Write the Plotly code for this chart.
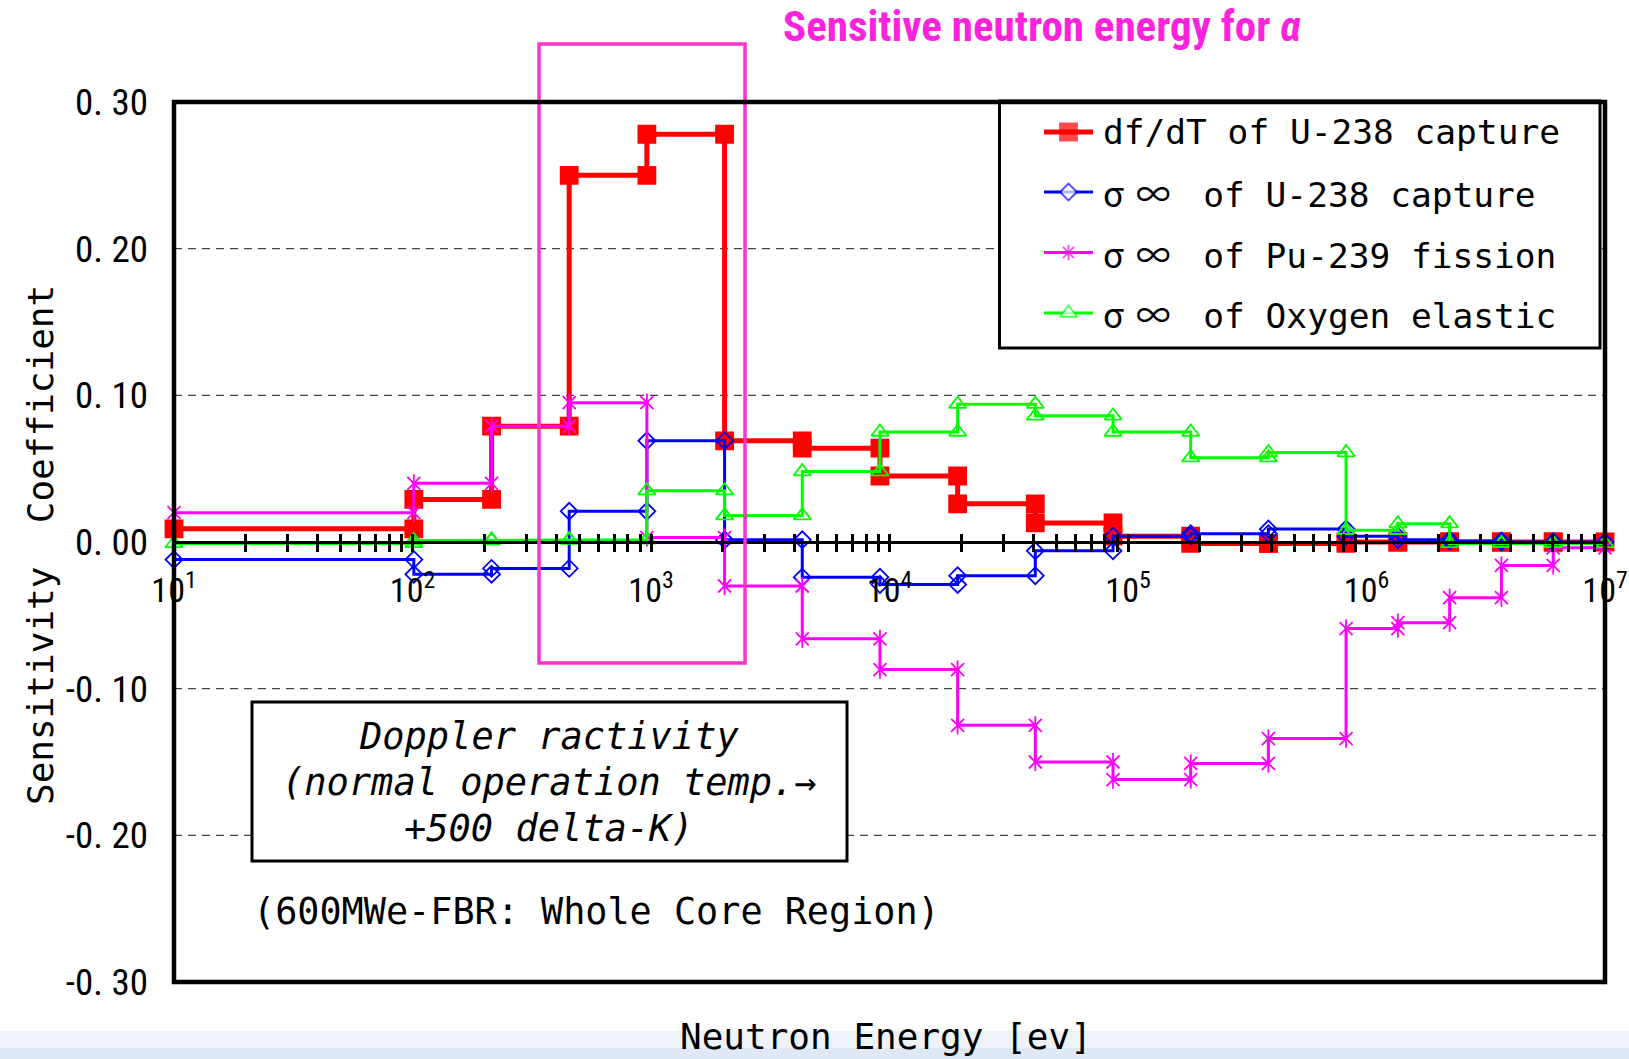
import plotly.graph_objects as go

# Energy group boundaries [eV] (18 broad groups, 10 eV - 10 MeV)
energy_bounds = [10, 101.3, 214.5, 454.0, 961.1, 2034.7, 4307.4, 9118.8, 19305, 40868,
                 86517, 183160, 387740, 820850, 1353400, 2231300, 3678800, 6065300, 1.0e7]

# Sensitivity coefficient of the Doppler reactivity, one value per group (low -> high energy)
dfdt_u238_capture = [0.009, 0.029, 0.079, 0.250, 0.278, 0.069, 0.064, 0.045, 0.026,
                     0.013, 0.004, -0.001, -0.001, 0.000, 0.000, 0.000, 0.000, 0.000]
sigma_u238_capture = [-0.012, -0.022, -0.018, 0.021, 0.069, 0.0015, -0.024, -0.029, -0.023,
                      -0.006, 0.004, 0.0057, 0.0088, 0.004, 0.0016, 0.0007, 0.000, 0.000]
sigma_pu239_fission = [0.020, 0.040, 0.079, 0.095, 0.003, -0.030, -0.066, -0.087, -0.125,
                       -0.150, -0.162, -0.151, -0.134, -0.059, -0.055, -0.038, -0.016, -0.004]
sigma_oxygen_elastic = [-0.001, 0.001, 0.0015, 0.0015, 0.035, 0.018, 0.048, 0.075, 0.094,
                        0.086, 0.075, 0.0575, 0.061, 0.008, 0.0125, -0.001, -0.001, -0.001]

series_names = ["df/dT of U-238 capture", "σ∞ of U-238 capture",
                "σ∞ of Pu-239 fission", "σ∞ of Oxygen elastic"]

y_tick_values = [0.30, 0.20, 0.10, 0.00, -0.10, -0.20, -0.30]
y_tick_labels = ["0. 30", "0. 20", "0. 10", "0. 00", "-0. 10", "-0. 20", "-0. 30"]
grid_values = [0.20, 0.10, -0.10, -0.20]
x_decades = [1, 2, 3, 4, 5, 6, 7]

# ---- page geometry (pixels) ----
W, H = 1629, 1059
ML, MR, MT, MB = 174, 24, 102, 77
PW, PH = W - ML - MR, H - MT - MB


def fx(px):
    return (px - ML) / PW


def fy(py):
    return (H - MB - py) / PH


MONO = "DejaVu Sans Mono"
NARROW = "Roboto Condensed"
CJK = "Noto Sans CJK JP"
RED, BLUE, MAGENTA, GREEN = "#FF0000", "#0000FF", "#FF00FF", "#00FF00"
PINK = "#FF33CC"

# per-series drawing style
styles = [
    dict(color=RED, width=5, symbol="square", size=17),
    dict(color=BLUE, width=3, symbol="diamond-open", size=13),
    dict(color=MAGENTA, width=3, symbol="x-thin-open", size=13),
    dict(color=GREEN, width=3, symbol="triangle-up-open", size=15),
]


def step(values):
    """Group-wise step curve: one horizontal segment per energy group."""
    xs, ys = [], []
    for i, v in enumerate(values):
        xs += [energy_bounds[i], energy_bounds[i + 1]]
        ys += [v, v]
    return xs, ys


fig = go.Figure()

for name, values, st in zip(series_names,
                            [dfdt_u238_capture, sigma_u238_capture,
                             sigma_pu239_fission, sigma_oxygen_elastic], styles):
    x, y = step(values)
    fig.add_trace(go.Scatter(x=x, y=y, mode="lines+markers", name=name, showlegend=False,
                             line=dict(color=st["color"], width=st["width"]),
                             marker=dict(symbol=st["symbol"], size=st["size"], color=st["color"],
                                         line=dict(color=st["color"], width=1.8)),
                             cliponaxis=False))
    if st["color"] == MAGENTA:
        # the star marker also carries a vertical bar
        fig.add_trace(go.Scatter(x=x, y=y, mode="markers", name=name, showlegend=False,
                                 marker=dict(symbol="line-ns-open", size=13, color=MAGENTA,
                                             line=dict(color=MAGENTA, width=1.8)),
                                 cliponaxis=False, hoverinfo="skip"))

# carrier for the upper half of the crossing ticks
fig.add_trace(go.Scatter(x=[None], y=[None], xaxis="x2", showlegend=False, hoverinfo="skip"))

# ---- legend key (drawn on a pixel-space overlay) ----
LEG_BOX = (999.5, 101, 1600, 348)
LEG_ROWS = [132, 192, 252.5, 313]
LEG_LINE = (1044, 1093)
LEG_TEXT_X = 1101
legend_symbols = [("square", RED, 17), ("diamond", "white", 13),
                  ("asterisk-open", MAGENTA, 13), ("triangle-up", "white", 15)]
for st, (sym, fill, size), ry in zip(styles, legend_symbols, LEG_ROWS):
    mid = (LEG_LINE[0] + LEG_LINE[1]) / 2
    fig.add_trace(go.Scatter(x=[LEG_LINE[0], mid, LEG_LINE[1]], y=[ry, ry, ry],
                             mode="lines+markers", xaxis="x3", yaxis="y3",
                             line=dict(color=st["color"], width=st["width"]),
                             marker=dict(symbol=sym, size=[0, size, 0], color=fill,
                                         line=dict(color=st["color"], width=1.8)),
                             showlegend=False, hoverinfo="skip", cliponaxis=False))

major_vals = [10 ** k for k in x_decades]
major_text = ["10<sup>%d</sup>" % k for k in x_decades]
minor_vals = [m * 10 ** k for k in x_decades[:-1] for m in range(2, 10)]

tick_style = dict(ticklen=8, tickwidth=2.5, tickcolor="black")

fig.update_layout(
    width=W, height=H,
    margin=dict(l=ML, r=MR, t=MT, b=MB, pad=0),
    paper_bgcolor="white", plot_bgcolor="white",
    showlegend=False,
    xaxis=dict(type="log", range=[1, 7], anchor="free", position=0.5, automargin=False,
               showline=True, linecolor="black", linewidth=3,
               showgrid=False, zeroline=False,
               tickmode="array", tickvals=major_vals, ticktext=major_text,
               ticks="outside", **tick_style, ticklabelstandoff=9,
               minor=dict(tickmode="array", tickvals=minor_vals, ticks="outside",
                          showgrid=False, **tick_style),
               tickfont=dict(family=NARROW, size=34, color="black")),
    xaxis2=dict(type="log", range=[1, 7], overlaying="x", anchor="free", position=0.5,
                automargin=False, showline=False, showgrid=False, zeroline=False,
                showticklabels=False, tickmode="array", tickvals=major_vals + minor_vals,
                ticks="inside", **tick_style),
    xaxis3=dict(range=[ML, ML + PW], overlaying="x", anchor="y3", visible=False,
                automargin=False),
    yaxis=dict(range=[-0.3, 0.3], tickmode="array", tickvals=y_tick_values,
               ticktext=y_tick_labels, ticks="", showgrid=False, zeroline=False,
               showline=False, ticklabelstandoff=25, automargin=False,
               tickfont=dict(family=NARROW, size=37, color="black")),
    yaxis3=dict(range=[H - MB, MT], overlaying="y", anchor="x3", visible=False,
                automargin=False),
)

shapes = []
# light band along the page bottom
shapes.append(dict(type="rect", xref="paper", yref="paper", x0=fx(0), x1=fx(W),
                   y0=fy(1048), y1=fy(1031), fillcolor="#EEF3FA", line_width=0, layer="below"))
shapes.append(dict(type="rect", xref="paper", yref="paper", x0=fx(0), x1=fx(W),
                   y0=fy(H), y1=fy(1048), fillcolor="#DFE9F5", line_width=0, layer="below"))
# dashed horizontal grid
for v in grid_values:
    shapes.append(dict(type="line", xref="paper", yref="y", x0=0, x1=1, y0=v, y1=v,
                       line=dict(color="#444444", width=1.2, dash="8px,6px"), layer="below"))
# caption box
shapes.append(dict(type="rect", xref="paper", yref="paper", x0=fx(252), x1=fx(847),
                   y0=fy(861), y1=fy(702), fillcolor="white",
                   line=dict(color="black", width=3), layer="below"))
# legend box
shapes.append(dict(type="rect", xref="paper", yref="paper", x0=fx(LEG_BOX[0]), x1=fx(LEG_BOX[2]),
                   y0=fy(LEG_BOX[3]), y1=fy(LEG_BOX[1]), fillcolor="white",
                   line=dict(color="black", width=3), layer="below"))
# highlighted energy window
shapes.append(dict(type="rect", xref="paper", yref="paper", x0=fx(539), x1=fx(745),
                   y0=fy(663), y1=fy(44), line=dict(color=PINK, width=3.5), layer="above"))
# plot frame
shapes.append(dict(type="rect", xref="paper", yref="paper", x0=0, x1=1, y0=0, y1=1,
                   line=dict(color="black", width=4.5), layer="above"))
fig.update_layout(shapes=shapes)

ann = []
ann.append(dict(text="<b>Sensitive neutron energy for <i>α</i></b>", x=fx(1042), y=fy(26),
                font=dict(family=NARROW, size=43, color="#FF22DD")))
ann.append(dict(text="Sensitivity\u00a0\u00a0Coefficient", x=fx(40), y=fy(545), textangle=-90,
                font=dict(family=MONO, size=36, color="black")))
ann.append(dict(text="Neutron Energy [ev]", x=fx(886), y=fy(1036),
                font=dict(family=MONO, size=36, color="black")))
for txt, py in [("Doppler ractivity", 736), ("(normal operation temp.→", 782),
                ("+500 delta-K)", 828)]:
    ann.append(dict(text="<i>" + txt + "</i>", x=fx(549), y=fy(py),
                    font=dict(family=MONO, size=37, color="black")))
ann.append(dict(text="(600MWe-FBR: Whole Core Region)", x=fx(251), y=fy(911), xanchor="left",
                font=dict(family=MONO, size=36.8, color="black")))
for name, ry in zip(series_names, LEG_ROWS):
    label = name.replace(
        "σ∞", "<span style=\"font-family:'%s';letter-spacing:12px\">σ∞</span>" % CJK)
    ann.append(dict(text=label, x=fx(LEG_TEXT_X), y=fy(ry), xanchor="left",
                    font=dict(family=MONO, size=34.5, color="black")))
for a in ann:
    a.setdefault("xanchor", "center")
    a.update(xref="paper", yref="paper", yanchor="middle", showarrow=False)
fig.update_layout(annotations=ann)

fig.write_html("out.html")
